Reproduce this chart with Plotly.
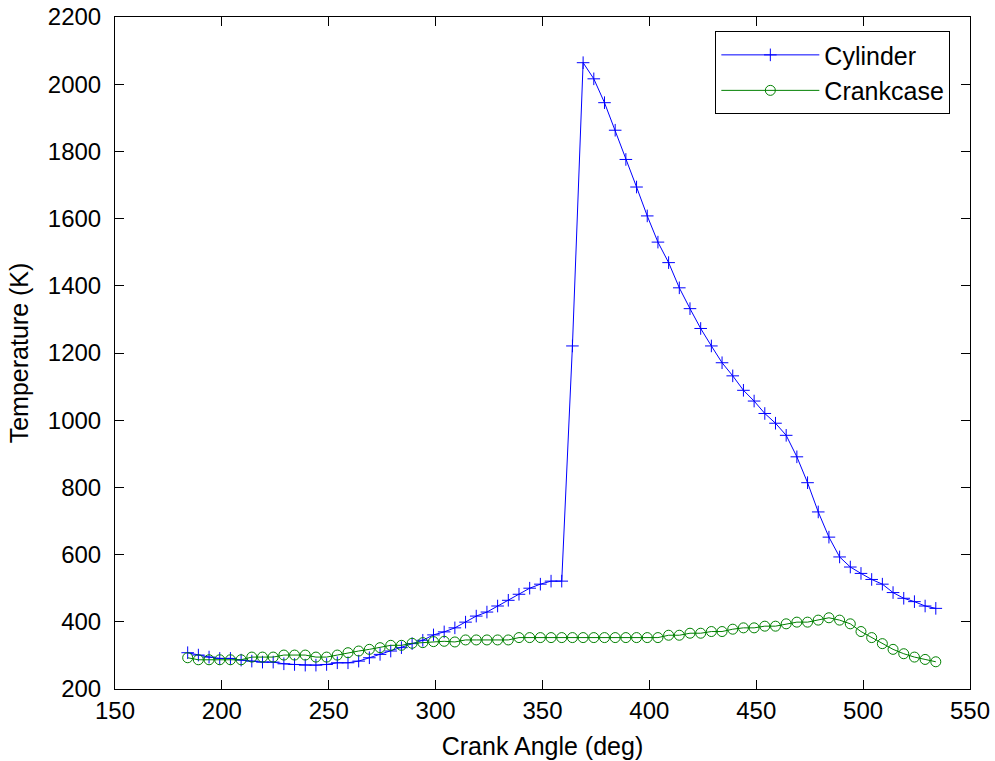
import plotly.graph_objects as go

crank_angle = [184 + 5 * i for i in range(71)]

cylinder_temp = [
    308, 301, 295, 291, 291, 286, 283, 280, 280, 275,
    273, 271, 271, 273, 278, 278, 283, 293, 303, 313,
    323, 335, 345, 361, 370, 382, 399, 417, 429, 447,
    464, 482, 500, 512, 521, 521, 1221, 2064, 2016, 1945,
    1863, 1776, 1694, 1608, 1530, 1469, 1394, 1332, 1273, 1221,
    1171, 1132, 1089, 1057, 1020, 991, 955, 891, 814, 727,
    652, 593, 563, 544, 526, 512, 487, 470, 460, 447,
    440,
]

crankcase_temp = [
    293, 287, 287, 287, 287, 287, 295, 295, 295, 301,
    301, 301, 295, 295, 301, 308, 313, 318, 323, 330,
    330, 336, 338, 341, 342, 340, 346, 346, 346, 346,
    346, 353, 353, 353, 353, 353, 353, 353, 353, 353,
    353, 353, 353, 353, 353, 360, 360, 366, 366, 371,
    371, 378, 382, 382, 387, 387, 394, 399, 399, 405,
    412, 405, 394, 371, 353, 335, 318, 305, 295, 288,
    281,
]

x_ticks = [150, 200, 250, 300, 350, 400, 450, 500, 550]
y_ticks = [200, 400, 600, 800, 1000, 1200, 1400, 1600, 1800, 2000, 2200]

FONT = "Liberation Sans, Arial, Helvetica, sans-serif"

fig = go.Figure()
fig.add_trace(go.Scatter(
    x=crank_angle, y=cylinder_temp, name="Cylinder", mode="lines+markers",
    legendgroup="a",
    line=dict(color="#0000FF", width=1),
    marker=dict(symbol="cross-thin", size=9, line=dict(color="#0000FF", width=1)),
))
fig.add_trace(go.Scatter(
    x=crank_angle, y=crankcase_temp, name="Crankcase", mode="lines+markers",
    legendgroup="b",
    line=dict(color="#008000", width=1),
    marker=dict(symbol="circle-open", size=10, color="#008000", line=dict(color="#008000", width=1)),
))

axis_common = dict(
    showgrid=False, zeroline=False, showline=True, linecolor="black", linewidth=1,
    mirror="ticks", ticks="inside", ticklen=9, tickwidth=1, tickcolor="black",
    tickfont=dict(family=FONT, size=24, color="black"),
    automargin=False, ticklabeloverflow="allow",
)

fig.update_layout(
    width=995, height=761,
    paper_bgcolor="white", plot_bgcolor="white",
    margin=dict(l=115, r=25, t=17, b=72),
    font=dict(family=FONT, size=24, color="black"),
    xaxis=dict(
        range=[150, 550], tickvals=x_ticks, ticktext=[str(v) for v in x_ticks],
        title=dict(text="Crank Angle (deg)", font=dict(family=FONT, size=25, color="black"), standoff=14),
        **axis_common,
    ),
    yaxis=dict(
        range=[200, 2200], tickvals=y_ticks, ticktext=[str(v) for v in y_ticks],
        title=dict(text="Temperature (K)", font=dict(family=FONT, size=25, color="black"), standoff=12),
        ticklabelstandoff=8,
        **axis_common,
    ),
    legend=dict(
        x=0.977, y=0.979, xanchor="right", yanchor="top",
        bordercolor="black", borderwidth=1, bgcolor="white",
        font=dict(family=FONT, size=25, color="black"),
        itemwidth=98, tracegroupgap=0,
    ),
    showlegend=True,
)

fig.write_html(
    "out.html",
    config={"displayModeBar": False},
    post_script="document.body.style.margin='0';document.body.style.overflow='hidden';",
)
